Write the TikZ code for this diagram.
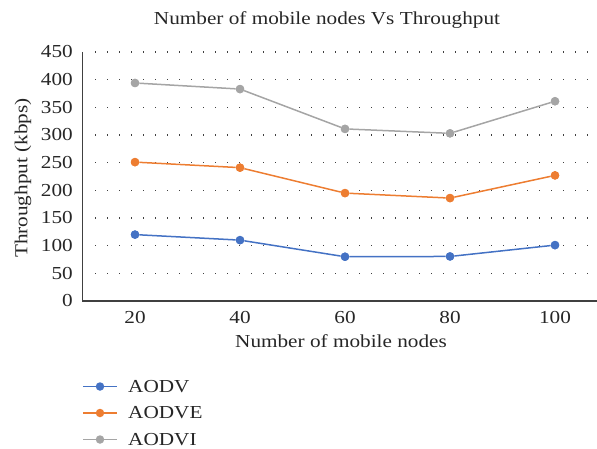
\documentclass[tikz,border=0pt]{standalone}
\usepackage{fontspec}
\setmainfont{Liberation Serif}[FakeStretch=1.16]
\newcommand{\chartfont}{\fontsize{18.3bp}{21bp}\selectfont}
\definecolor{sBlue}{HTML}{4472C4}
\definecolor{sOrange}{HTML}{ED7D31}
\definecolor{sGray}{HTML}{A5A5A5}
\definecolor{axisCol}{HTML}{404040}
\definecolor{textCol}{HTML}{262626}
\begin{document}
\begin{tikzpicture}[x=1bp,y=-1bp,
  txt/.style={font=\chartfont,text=textCol,inner sep=0pt},
  grid/.style={draw=axisCol,line width=1.2bp,dash pattern=on 1.2bp off 10.8bp},
  axisline/.style={draw=axisCol,line width=1.3bp},
  series/.style={line width=1.5bp},
  dot/.style={circle,fill=#1,inner sep=0pt,minimum size=8.5bp}]
\useasboundingbox (0,0) rectangle (597,449);
% value -> vertical position: 0 at 301, 450 at 52
\def\vy#1{301-#1*0.553333}
% title and axis titles
\node[txt] (title) at (327,20) {Number of mobile nodes Vs Throughput};
\node[txt,rotate=90] (ylab) at (23,178) {Throughput (kbps)};
\node[txt] (xlab) at (341,341) {Number of mobile nodes};
% horizontal dotted grid and tick labels
\foreach \v in {50,100,...,450}{
  \draw[grid] (95,{\vy{\v}}) -- (597,{\vy{\v}});
}
\foreach \v in {0,50,...,450}{
  \node[txt,anchor=east] (yt\v) at (73,{\vy{\v}}) {\v};
}
% axes
\draw[axisline] (82.5,52) -- (82.5,301) -- (597,301);
% category labels
\foreach \c [count=\i from 0] in {20,40,60,80,100}{
  \node[txt] (xt\c) at ({135+105*\i},318) {\c};
}
% data points
\foreach \s/\col/\vals in {a/sBlue/{120,110,80,80.5,101},
                           e/sOrange/{251,241,195,186,227},
                           i/sGray/{394,383,311,303,361}}{
  \foreach \v [count=\i from 0] in \vals{
    \node[dot=\col] (\s\i) at ({135+105*\i},{\vy{\v}}) {};
  }
}
\draw[series,sBlue] (a0) -- (a1) -- (a2) -- (a3) -- (a4);
\draw[series,sOrange] (e0) -- (e1) -- (e2) -- (e3) -- (e4);
\draw[series,sGray] (i0) -- (i1) -- (i2) -- (i3) -- (i4);
\foreach \s/\col in {a/sBlue,e/sOrange,i/sGray}{
  \foreach \i in {0,...,4}{ \node[dot=\col] at (\s\i) {}; }
}
% legend
\foreach \s/\col/\lab [count=\k from 0] in {la/sBlue/AODV,le/sOrange/AODVE,li/sGray/AODVI}{
  \coordinate (\s L) at (83,{386.5+26.5*\k});
  \coordinate (\s R) at (117,{386.5+26.5*\k});
  \draw[series,\col] (\s L) -- (\s R);
  \node[dot=\col] (\s M) at (100,{386.5+26.5*\k}) {};
  \node[txt,anchor=west] (\s T) at (128,{386.5+26.5*\k}) {\lab};
}
\end{tikzpicture}
\end{document}
